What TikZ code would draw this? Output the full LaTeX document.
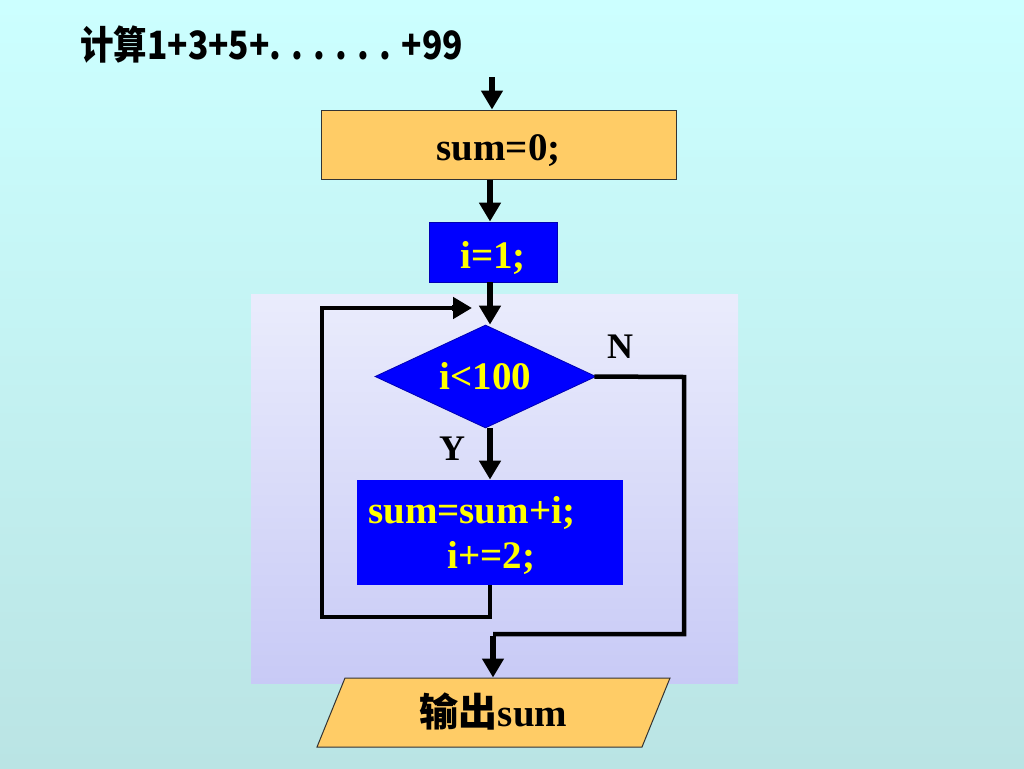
\documentclass[tikz,border=0pt]{standalone}
\usepackage{fontspec}
\setmainfont{Liberation Serif}
\newfontfamily\cjk{Noto Sans CJK SC}
\newfontfamily\cjktitle{Noto Sans CJK SC}[FakeStretch=0.86]
\usetikzlibrary{shapes.geometric,arrows.meta,calc}
\definecolor{bgtop}{RGB}{204,255,255}
\definecolor{bgbot}{RGB}{186,228,228}
\definecolor{pantop}{RGB}{234,236,252}
\definecolor{panbot}{RGB}{200,202,246}
\definecolor{orng}{RGB}{255,204,102}
\definecolor{blu}{RGB}{0,0,255}
\definecolor{yel}{RGB}{255,255,0}
\tikzset{
  arr/.style={line width=5.5pt,-{Triangle[width=21pt,length=19pt]}},
  lin/.style={line width=4.5pt,line join=miter},
  orbox/.style={draw=black!80,line width=1pt,fill=orng,inner sep=0pt,text depth=0pt,font=\fontsize{39}{45}\selectfont\bfseries},
  blbox/.style={draw=blu!70!black,line width=0.8pt,fill=blu,text=yel,inner sep=0pt,text depth=0pt,font=\fontsize{39}{45}\selectfont\bfseries},
  lbl/.style={font=\fontsize{36}{40}\selectfont\bfseries,inner sep=0pt}
}
\begin{document}
\begin{tikzpicture}[x=1pt,y=-1pt]
\useasboundingbox (0,0) rectangle (1024,768);
\shade[top color=bgtop,bottom color=bgbot] (0,0) rectangle (1024,768);
\shade[top color=pantop,bottom color=panbot] (251,294) rectangle (738,683);
% title
\node[anchor=west,inner sep=0pt,font=\cjktitle\bfseries\fontsize{39}{42}\selectfont] (title) at (80,45) {计算1+3+5+. . . . . . +99};
% nodes
\coordinate (start) at (492,77);
\coordinate (vx) at (490,0);
\node[orbox,text height=32pt,minimum width=355pt,minimum height=69pt] (s0) at (498.5,144.5) {sum=0;};
\node[blbox,text height=32pt,minimum width=128pt,minimum height=60pt] (i1) at (493,252) {i=1;};
\node[blbox,text height=26pt,diamond,aspect=2.15,minimum width=221pt,minimum height=103pt] (d) at (485.5,376.5) {i<100};
\node[blbox,draw=none,minimum width=266pt,minimum height=105pt] (p) at (490,532.5) {};
\node[anchor=west,inner sep=0pt,align=left,text=yel,font=\fontsize{39}{45}\selectfont\bfseries] (ptxt) at (368,535) {sum=sum+i;\\\hspace*{79pt}i+=2;};
\node[orbox,text height=28pt,trapezium,trapezium left angle=45,trapezium right angle=135,trapezium stretches body,minimum width=353pt,minimum height=69pt] (o) at (493.5,712.5) {{\cjk\bfseries 输出}sum};
\node[lbl] (Y) at (452,449) {Y};
\node[lbl] (N) at (620,347) {N};
% connectors
\draw[arr] (start) -- (start |- s0.north);
\draw[arr] (s0.south -| vx) -- (i1.north -| vx);
\draw[arr] (i1.south -| vx) -- (d.north -| vx);
\draw[arr] (d.south -| vx) -- (p.north -| vx);
\coordinate (lb) at (322,617);
\coordinate (lt) at (322,308);
\coordinate (ltip) at (472,308);
\draw[lin] (p.south -| vx) -- (vx |- lb) -- (lb) -- (lt) -- ([xshift=-10pt]lt -| ltip);
\draw[arr] ([xshift=-20pt]ltip) -- (ltip);
\coordinate (nr) at (684,377);
\coordinate (nb) at (684,634);
\coordinate (ox) at (493,0);
\draw[lin] ([xshift=-2pt]d.east) -- (nr) -- (nb) -- (ox |- nb);
\draw[arr] ([yshift=-2pt]ox |- nb) -- (o.north -| ox);
\end{tikzpicture}
\end{document}
